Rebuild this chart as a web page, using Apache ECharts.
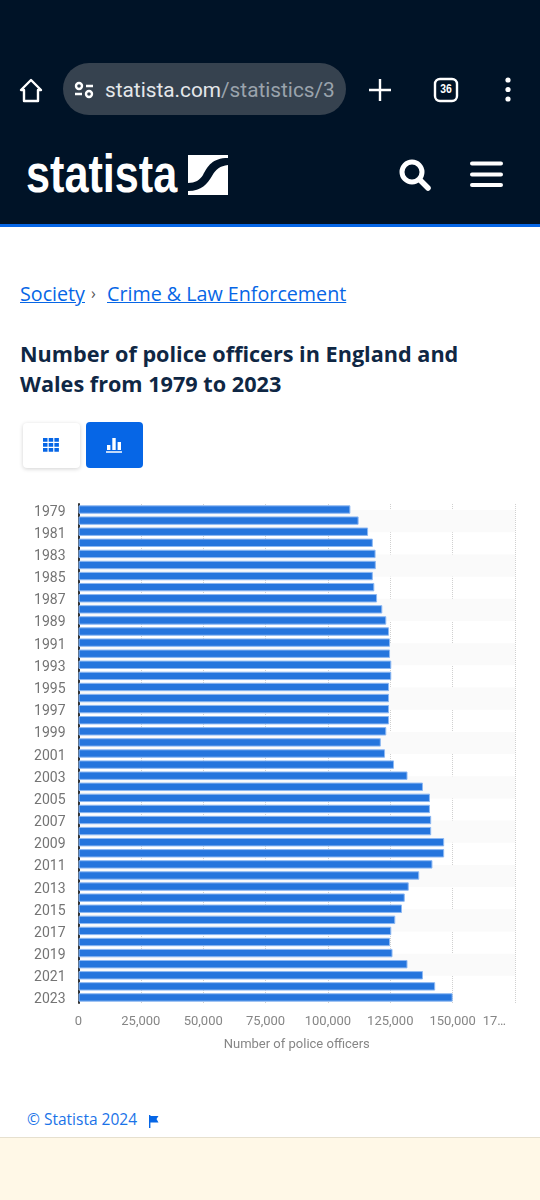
<!DOCTYPE html>
<html><head><meta charset="utf-8">
<script src="https://cdn.jsdelivr.net/npm/echarts@6/dist/echarts.min.js"></script>
<style>
html,body{margin:0;padding:0;background:#fff;width:540px;height:1200px;overflow:hidden}
.a{position:absolute;white-space:nowrap}
#chart{position:absolute;left:0;top:480px;width:540px;height:600px}
</style></head><body>
<div class="a" style="left:0;top:0;width:540px;height:224px;background:#001327"></div>
<div class="a" style="left:0;top:224px;width:540px;height:3px;background:#0666e6"></div>
<div class="a" style="left:63px;top:63px;width:283px;height:52px;border-radius:26px;background:#36424f"></div>
<svg class="a" style="left:0;top:60px" width="540" height="60" fill="none" stroke="#fff" stroke-width="2.4">
<path d="M31 20 L21 30 H24 V41 H38 V30 H41 Z" stroke-linejoin="round"/>
<circle cx="79" cy="26" r="3"/><path d="M86 26H93M75 34H82"/><circle cx="89" cy="34" r="3"/>
<path d="M369 30H391M380 19V41"/>
<rect x="435" y="19" width="22" height="22" rx="5"/>
<circle cx="508" cy="20" r="2.6" fill="#fff" stroke="none"/><circle cx="508" cy="29.5" r="2.6" fill="#fff" stroke="none"/><circle cx="508" cy="39" r="2.6" fill="#fff" stroke="none"/>
</svg>
<div class="a" style="left:105px;top:78px;font:20.8px Roboto;color:#e4e7ea">statista.com<span style="color:#9aa3ac">/statistics/3</span></div>
<div class="a" style="left:437px;top:81px;width:18px;text-align:center;font:bold 13px 'Liberation Sans';color:#fff;transform:scaleX(.8)">36</div>
<div class="a" style="left:26px;top:143px;font:bold 53px 'Liberation Sans';color:#fff;transform:scaleX(.815);transform-origin:0 0">statista</div>
<svg class="a" style="left:188px;top:155px" width="40" height="40"><path d="M0 0H40V3C24 3 20 11 15 20C12 25 7 28 0 28Z M40 10V40H0V36C14 36 19 29 24 21C28 14 32 11 40 10Z" fill="#fff"/></svg>
<svg class="a" style="left:395px;top:155px" width="110" height="40" fill="none" stroke="#fff" stroke-linecap="round"><circle cx="17" cy="17" r="10" stroke-width="5"/><path d="M25 25L33 33" stroke-width="5.5"/>
<path d="M77 8.5H106M77 19.5H106M77 30H106" stroke-width="4"/></svg>
<div class="a" style="left:20px;top:280px;font:19.7px 'Open Sans';color:#0666e6;text-decoration:underline">Society</div>
<div class="a" style="left:91px;top:282px;font:16px 'Open Sans';color:#555">›</div>
<div class="a" style="left:107px;top:280px;font:19.7px 'Open Sans';color:#0666e6;text-decoration:underline">Crime &amp; Law Enforcement</div>
<div class="a" style="left:20px;top:339px;font:bold 21.65px/30px 'Open Sans';color:#0f2744">Number of police officers in England and<br>Wales from 1979 to 2023</div>
<div class="a" style="left:23px;top:423px;width:57px;height:45px;border-radius:4px;background:#fff;box-shadow:0 1px 4px rgba(0,0,0,.18)"></div>
<div class="a" style="left:86px;top:422px;width:57px;height:46px;border-radius:4px;background:#0666e6"></div>
<svg class="a" style="left:43px;top:438px" width="16" height="14" fill="#0666e6"><path d="M0 0h4.5v3.8H0zM5.7 0h4.5v3.8H5.7zM11.4 0h4.5v3.8h-4.5zM0 5h4.5v3.8H0zM5.7 5h4.5v3.8H5.7zM11.4 5h4.5v3.8h-4.5zM0 10h4.5v3.8H0zM5.7 10h4.5v3.8H5.7zM11.4 10h4.5v3.8h-4.5z"/></svg>
<svg class="a" style="left:106px;top:437px" width="16" height="16" fill="#fff"><path d="M1 8h3.4v5H1zM6.3 1h3.4v12H6.3zM11.6 5H15v8h-3.4zM0 14.3h16v1.4H0z"/></svg>
<div id="chart"></div>
<div class="a" style="left:27px;top:1108px;font:15.5px 'Open Sans';color:#1a73e8">© Statista 2024</div>
<svg class="a" style="left:148px;top:1115px" width="12" height="14" fill="#0666e6"><path d="M1 0h1.4v13H1zM2.4 1h8.1l-2 3 2 3.4H2.4z"/></svg>
<div class="a" style="left:0;top:1137px;width:540px;height:63px;background:#fff8e7;border-top:1px solid #e6e0cf;box-sizing:border-box"></div>
<script>
const years=[1979,1980,1981,1982,1983,1984,1985,1986,1987,1988,1989,1990,1991,1992,1993,1994,1995,1996,1997,1998,1999,2000,2001,2002,2003,2004,2005,2006,2007,2008,2009,2010,2011,2012,2013,2014,2015,2016,2017,2018,2019,2020,2021,2022,2023];
const officers=[109000,112300,116100,118000,119100,119200,118000,118600,119700,121800,123400,124500,124900,124900,125400,125400,124500,124500,124500,124500,123400,121200,122900,126500,131900,138100,140900,140900,141400,141400,146600,146600,141900,136600,132400,130800,129700,127000,125400,124900,125900,131900,138100,143000,150000];
const stripeStarts=[0.05,4.05,8.05,12.05,16.05,20.05,24.05,28.05,32.05,36.05,40.05];
const stripeSpan=2;
const tickLabels={0:'0',25000:'25,000',50000:'50,000',75000:'75,000',100000:'100,000',125000:'125,000',150000:'150,000',175000:'{m|17…}'};
const chart=echarts.init(document.getElementById('chart'),null,{renderer:'canvas'});
chart.setOption({
 animation:false,
 backgroundColor:'transparent',
 grid:{left:78.5,top:24,width:436.5,height:499,containLabel:false},
 xAxis:{type:'value',min:0,max:175000,interval:25000,
  name:'Number of police officers',nameLocation:'middle',nameGap:35,
  nameTextStyle:{fontFamily:'Roboto',fontSize:13,color:'#868686'},
  axisLine:{show:false},axisTick:{show:false},
  axisLabel:{fontFamily:'Roboto',fontSize:13,color:'#868686',margin:12,hideOverlap:false,alignMaxLabel:'right',
   formatter:v=>tickLabels[v],
   rich:{m:{fontFamily:'Roboto',fontSize:13,color:'#868686',padding:[0,9,0,0]}}},
  splitLine:{show:true,lineStyle:{type:'dotted',color:'#d0d0d0',width:1}}},
 yAxis:[{type:'category',inverse:true,data:years,
  axisLine:{show:true,lineStyle:{color:'#333',width:2}},axisTick:{show:false},
  axisLabel:{interval:1,margin:13,formatter:v=>'{y|'+v+'}',
   rich:{y:{fontFamily:'Roboto',fontSize:14,color:'#747474',padding:[5,0,0,0]}}}},
  {type:'value',inverse:true,min:-0.5,max:44.5,show:false}],
 series:[
  {type:'bar',yAxisIndex:0,data:officers,barWidth:8.4,z:3,
   itemStyle:{color:'#2575dd',borderColor:'#8db8f2',borderWidth:1}},
  {type:'line',yAxisIndex:1,data:[],silent:true,z:1,
   markArea:{silent:true,z:0,itemStyle:{color:'#fafafa',opacity:1},
    data:stripeStarts.map(s=>[{x:78,yAxis:s},{x:515,yAxis:s+stripeSpan}])}}
 ]
});
</script>
</body></html>
